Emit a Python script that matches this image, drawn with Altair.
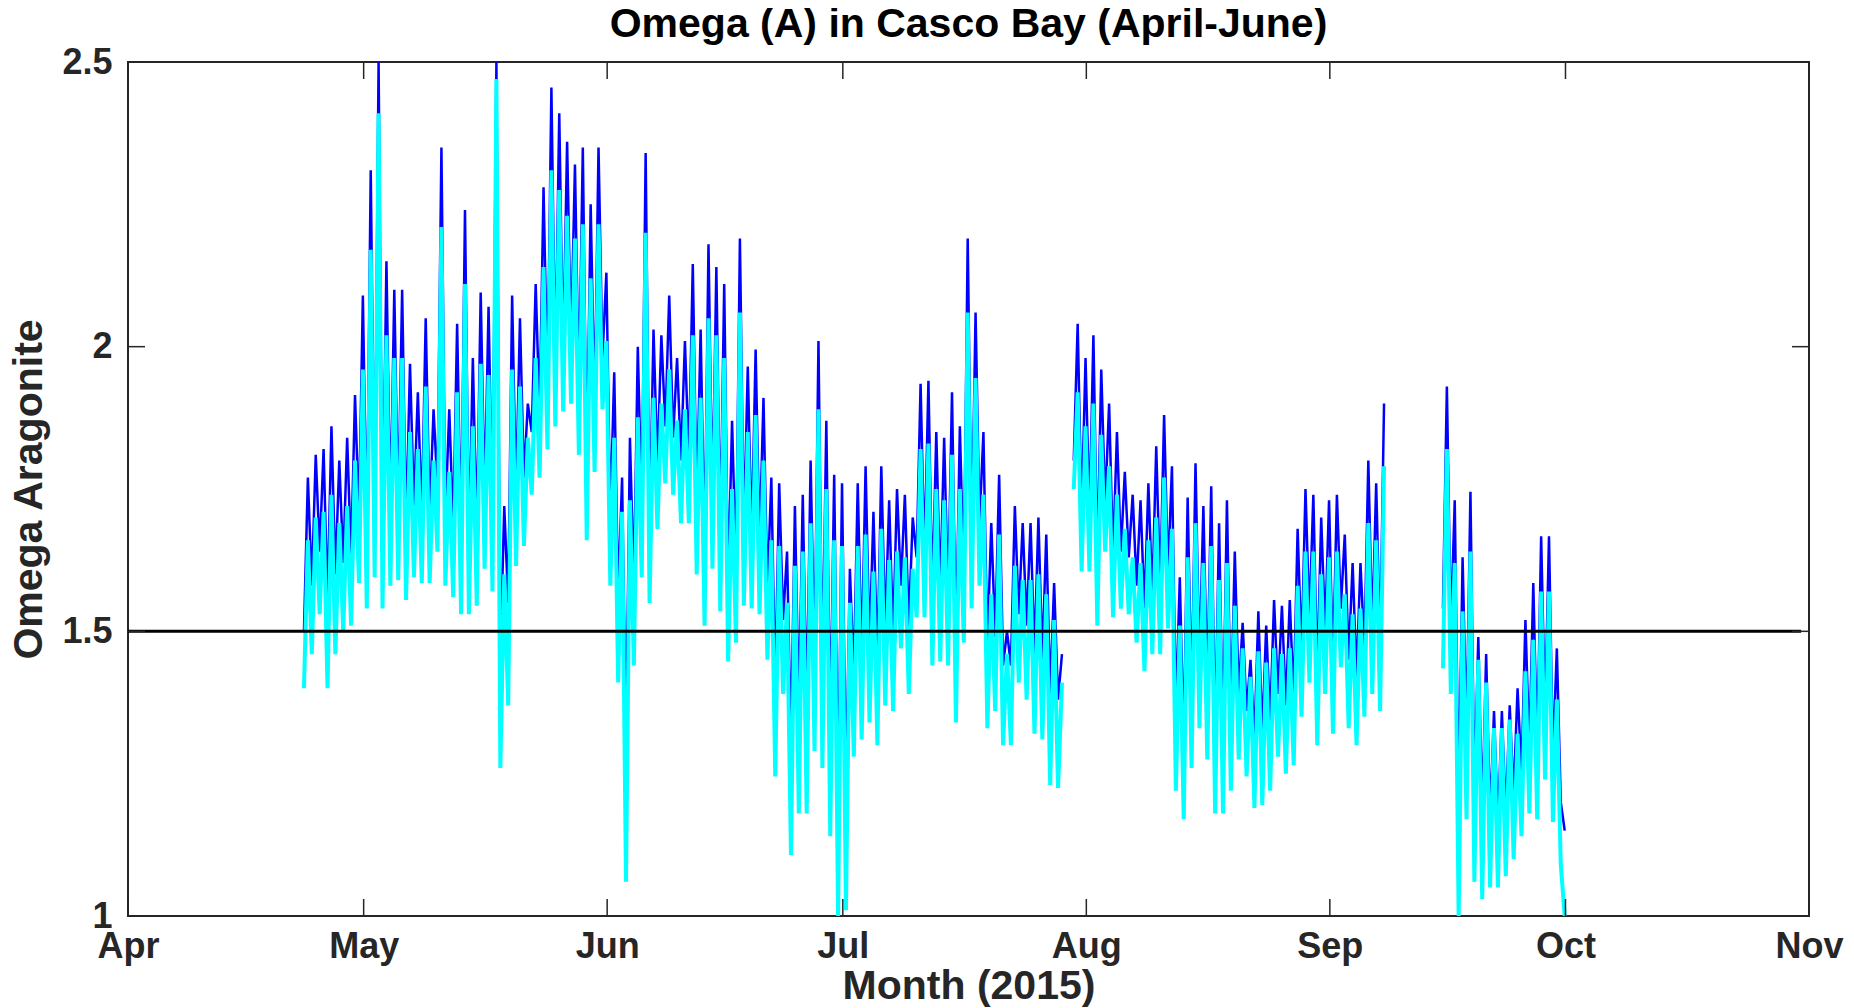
import altair as alt
import pandas as pd

# ---------------- data ----------------
# Each record is stored as one low value (about 09:36 UTC) and one high
# value (about 21:36 UTC) per day, starting at the segment start date.
SEG_START = ["2015-04-23", "2015-07-30", "2015-09-15"]

# Segment 1: 23 Apr .. 28 Jul
CYAN_LO_1 = [1.40, 1.46, 1.53, 1.40, 1.46, 1.50, 1.51, 1.585, 1.54, 1.595,
             1.54, 1.58, 1.59, 1.555, 1.595, 1.585, 1.585, 1.64, 1.58, 1.56,
             1.53, 1.53, 1.545, 1.61, 1.57, 1.26, 1.37, 1.615, 1.65, 1.74,
             1.77, 1.82, 1.86, 1.886, 1.90, 1.81, 1.66, 1.78, 1.89, 1.58,
             1.41, 1.06, 1.44, 1.595, 1.55, 1.68, 1.76, 1.74, 1.69, 1.69,
             1.60, 1.51, 1.61, 1.535, 1.447, 1.48, 1.545, 1.54, 1.53, 1.45,
             1.245, 1.39, 1.107, 1.18, 1.18, 1.29, 1.26, 1.14, 1.00, 1.01,
             1.28, 1.31, 1.34, 1.30, 1.37, 1.36, 1.47, 1.39, 1.525, 1.525,
             1.44, 1.447, 1.44, 1.34, 1.48, 1.54, 1.58, 1.33, 1.36, 1.30,
             1.30, 1.41, 1.38, 1.32, 1.31, 1.23, 1.225]
CYAN_HI_1 = [1.66, 1.70, 1.71, 1.74, 1.69, 1.72, 1.80, 1.96, 2.17, 2.41,
             2.02, 1.98, 1.98, 1.85, 1.82, 1.93, 1.80, 2.21, 1.78, 1.92,
             2.11, 1.86, 1.97, 1.95, 2.47, 1.60, 1.96, 1.93, 1.84, 1.98,
             2.14, 2.31, 2.275, 2.23, 2.19, 2.215, 2.12, 2.215, 2.01, 1.84,
             1.71, 1.73, 1.876, 2.20, 1.91, 1.90, 1.96, 1.87, 1.89, 2.02,
             1.91, 2.05, 2.02, 1.98, 1.75, 2.06, 1.85, 1.88, 1.80, 1.66,
             1.65, 1.55, 1.615, 1.64, 1.69, 1.89, 1.75, 1.66, 1.65, 1.55,
             1.65, 1.67, 1.605, 1.68, 1.625, 1.64, 1.63, 1.61, 1.82, 1.83,
             1.75, 1.73, 1.81, 1.75, 2.06, 1.945, 1.74, 1.565, 1.67, 1.46,
             1.615, 1.59, 1.59, 1.60, 1.565, 1.52, 1.41]
BLUE_LO_1 = [1.50, 1.58, 1.64, 1.55, 1.60, 1.62, 1.63, 1.70, 1.66, 1.70,
             1.66, 1.70, 1.71, 1.68, 1.72, 1.70, 1.70, 1.75, 1.70, 1.68,
             1.66, 1.65, 1.67, 1.73, 1.69, 1.45, 1.55, 1.74, 1.77, 1.85,
             1.88, 1.93, 1.96, 1.98, 2.00, 1.92, 1.78, 1.89, 1.98, 1.70,
             1.56, 1.30, 1.58, 1.71, 1.67, 1.79, 1.86, 1.84, 1.80, 1.80,
             1.72, 1.64, 1.72, 1.66, 1.58, 1.61, 1.67, 1.66, 1.65, 1.57,
             1.40, 1.52, 1.30, 1.36, 1.36, 1.45, 1.42, 1.32, 1.20, 1.22,
             1.42, 1.45, 1.47, 1.44, 1.50, 1.49, 1.58, 1.51, 1.63, 1.63,
             1.56, 1.57, 1.56, 1.47, 1.59, 1.65, 1.69, 1.47, 1.49, 1.44,
             1.44, 1.53, 1.51, 1.46, 1.45, 1.39, 1.38]
BLUE_HI_1 = [1.77, 1.81, 1.82, 1.86, 1.80, 1.84, 1.915, 2.09, 2.31, 2.50,
             2.15, 2.10, 2.10, 1.97, 1.92, 2.05, 1.89, 2.35, 1.89, 2.04,
             2.24, 1.98, 2.095, 2.07, 2.50, 1.72, 2.09, 2.05, 1.90, 2.11,
             2.28, 2.455, 2.41, 2.36, 2.32, 2.35, 2.25, 2.35, 2.13, 1.955,
             1.77, 1.84, 2.00, 2.34, 2.03, 2.02, 2.09, 1.98, 2.01, 2.145,
             2.03, 2.18, 2.14, 2.11, 1.87, 2.19, 1.965, 1.995, 1.91, 1.77,
             1.76, 1.64, 1.72, 1.74, 1.80, 2.01, 1.87, 1.775, 1.76, 1.61,
             1.76, 1.79, 1.71, 1.79, 1.73, 1.75, 1.74, 1.70, 1.935, 1.94,
             1.85, 1.84, 1.92, 1.86, 2.19, 2.06, 1.85, 1.69, 1.775, 1.50,
             1.72, 1.69, 1.69, 1.70, 1.67, 1.585, 1.46]

# Segment 2: 30 Jul .. 7 Sep
CYAN_LO_2 = [1.75, 1.605, 1.605, 1.51, 1.64, 1.525, 1.54, 1.53, 1.48, 1.43,
             1.46, 1.46, 1.505, 1.22, 1.17, 1.26, 1.33, 1.275, 1.18, 1.18,
             1.22, 1.275, 1.245, 1.19, 1.195, 1.22, 1.28, 1.25, 1.265, 1.35,
             1.41, 1.30, 1.39, 1.32, 1.437, 1.33, 1.30, 1.35, 1.39, 1.36]
CYAN_HI_2 = [1.92, 1.86, 1.90, 1.845, 1.79, 1.74, 1.68, 1.63, 1.62, 1.66,
             1.70, 1.77, 1.68, 1.51, 1.63, 1.69, 1.62, 1.65, 1.59, 1.62,
             1.545, 1.47, 1.42, 1.465, 1.445, 1.47, 1.46, 1.47, 1.58, 1.64,
             1.64, 1.60, 1.63, 1.64, 1.565, 1.53, 1.54, 1.69, 1.66, 1.79]
BLUE_LO_2 = [1.80, 1.70, 1.70, 1.62, 1.72, 1.63, 1.64, 1.63, 1.58, 1.54,
             1.56, 1.57, 1.60, 1.36, 1.30, 1.38, 1.44, 1.40, 1.31, 1.31,
             1.34, 1.39, 1.36, 1.31, 1.32, 1.34, 1.39, 1.37, 1.38, 1.46,
             1.52, 1.42, 1.50, 1.44, 1.54, 1.45, 1.42, 1.47, 1.50, 1.47]
BLUE_HI_2 = [2.04, 1.98, 2.02, 1.96, 1.90, 1.85, 1.78, 1.74, 1.73, 1.76,
             1.825, 1.88, 1.79, 1.595, 1.735, 1.795, 1.72, 1.755, 1.69, 1.73,
             1.64, 1.515, 1.45, 1.535, 1.51, 1.555, 1.545, 1.555, 1.68, 1.75,
             1.74, 1.70, 1.73, 1.74, 1.67, 1.62, 1.62, 1.80, 1.76, 1.90]

# Segment 3: 15 Sep .. 30 Sep
CYAN_LO_3 = [1.435, 1.39, 1.00, 1.17, 1.06, 1.03, 1.05, 1.05, 1.07, 1.10,
             1.14, 1.18, 1.17, 1.24, 1.165, 1.09]
CYAN_HI_3 = [1.82, 1.62, 1.535, 1.64, 1.45, 1.41, 1.33, 1.33, 1.345, 1.32,
             1.43, 1.485, 1.57, 1.57, 1.38, 1.00]
BLUE_LO_3 = [1.54, 1.50, 1.20, 1.32, 1.22, 1.18, 1.17, 1.16, 1.18, 1.21,
             1.25, 1.29, 1.29, 1.35, 1.28, 1.20]
BLUE_HI_3 = [1.93, 1.73, 1.63, 1.745, 1.49, 1.46, 1.36, 1.36, 1.37, 1.40,
             1.52, 1.585, 1.667, 1.667, 1.47, 1.15]

SERIES = {
    "blue": {"lo": [BLUE_LO_1, BLUE_LO_2, BLUE_LO_3],
             "hi": [BLUE_HI_1, BLUE_HI_2, BLUE_HI_3]},
    "cyan": {"lo": [CYAN_LO_1, CYAN_LO_2, CYAN_LO_3],
             "hi": [CYAN_HI_1, CYAN_HI_2, CYAN_HI_3]},
}

MONTHS = ["2015-04-01", "2015-05-01", "2015-06-01", "2015-07-01",
          "2015-08-01", "2015-09-01", "2015-10-01", "2015-11-01"]
Y_TICKS = [1.0, 1.5, 2.0, 2.5]
THRESHOLD = 1.5
THRESHOLD_SPAN = ["2015-04-01", "2015-10-31"]

# ---------------- build tables ----------------
rows = []
for name, s in SERIES.items():
    for k, start in enumerate(SEG_START):
        t0 = pd.Timestamp(start)
        for i, (lo, hi) in enumerate(zip(s["lo"][k], s["hi"][k])):
            day = t0 + pd.Timedelta(days=i)
            rows.append({"series": name, "seg": k,
                         "t": (day + pd.Timedelta(minutes=576)).strftime("%Y-%m-%dT%H:%M:%SZ"),
                         "v": lo})
            rows.append({"series": name, "seg": k,
                         "t": (day + pd.Timedelta(minutes=1296)).strftime("%Y-%m-%dT%H:%M:%SZ"),
                         "v": hi})
df = pd.DataFrame(rows)
blue_df = df[df.series == "blue"]
cyan_df = df[df.series == "cyan"]

month_df = pd.DataFrame({"t": [m + "T00:00:00Z" for m in MONTHS]})
ytick_df = pd.DataFrame({"v": Y_TICKS})
thr_df = pd.DataFrame({"t": [THRESHOLD_SPAN[0] + "T00:00:00Z"],
                       "t2": [THRESHOLD_SPAN[1] + "T00:00:00Z"],
                       "v": [THRESHOLD]})

W, H = 1681, 854
TICK = 17
AX = "#262626"
FONT = "Liberation Sans"

x_axis = alt.Axis(
    values=[alt.DateTime(year=2015, month=int(m[5:7]), date=1, utc=True) for m in MONTHS],
    format="%b", ticks=False, domain=False, grid=False,
    labelFont=FONT, labelFontSize=36, labelFontWeight="bold", labelColor=AX,
    labelPadding=13, labelFlush=False, labelOverlap=False, labelBound=False,
    title="Month (2015)", titleFont=FONT, titleFontSize=41, titleFontWeight="bold",
    titleColor=AX, titlePadding=2,
)
y_axis = alt.Axis(
    values=Y_TICKS, format=".1~f", ticks=False, domain=False, grid=False,
    labelFont=FONT, labelFontSize=36, labelFontWeight="bold", labelColor=AX,
    labelPadding=16, labelFlush=False, labelOverlap=False, labelBound=False,
    title="Omega Aragonite", titleFont=FONT, titleFontSize=41,
    titleFontWeight="bold", titleColor=AX, titlePadding=11,
)
x_scale = alt.Scale(type="utc", domain=[
    alt.DateTime(year=2015, month=4, date=1, utc=True),
    alt.DateTime(year=2015, month=11, date=1, utc=True)])
y_scale = alt.Scale(domain=[1, 2.5], nice=False, zero=False)

X = alt.X("t:T", scale=x_scale, axis=x_axis)
Y = alt.Y("v:Q", scale=y_scale, axis=y_axis)

blue = alt.Chart(blue_df).mark_line(color="#0000FF", strokeWidth=2.5, clip=True).encode(
    x=X, y=Y, detail="seg:N")
cyan = alt.Chart(cyan_df).mark_line(color="#00FFFF", strokeWidth=4, clip=True).encode(
    x=X, y=Y, detail="seg:N")
thr = alt.Chart(thr_df).mark_rule(color="black", strokeWidth=3).encode(
    x=X, x2="t2:T", y=Y)

xt_bot = alt.Chart(month_df).mark_rule(color=AX, strokeWidth=1.5).encode(
    x=X, y=alt.value(H), y2=alt.value(H - TICK))
xt_top = alt.Chart(month_df).mark_rule(color=AX, strokeWidth=1.5).encode(
    x=X, y=alt.value(0), y2=alt.value(TICK))
yt_left = alt.Chart(ytick_df).mark_rule(color=AX, strokeWidth=1.5).encode(
    y=Y, x=alt.value(0), x2=alt.value(TICK))
yt_right = alt.Chart(ytick_df).mark_rule(color=AX, strokeWidth=1.5).encode(
    y=Y, x=alt.value(W), x2=alt.value(W - TICK))

chart = alt.layer(blue, cyan, thr, xt_bot, xt_top, yt_left, yt_right).properties(
    width=W, height=H,
    title=alt.TitleParams(
        text="Omega (A) in Casco Bay (April-June)", font=FONT, fontSize=41,
        fontWeight="bold", color="black", anchor="middle", offset=-2),
    autosize=alt.AutoSizeParams(type="none"),
    padding={"left": 120, "top": 54, "right": 37, "bottom": 92},
).configure_view(stroke=AX, strokeWidth=2)

chart.save("out.html", embed_options={"renderer": "svg", "actions": False})
